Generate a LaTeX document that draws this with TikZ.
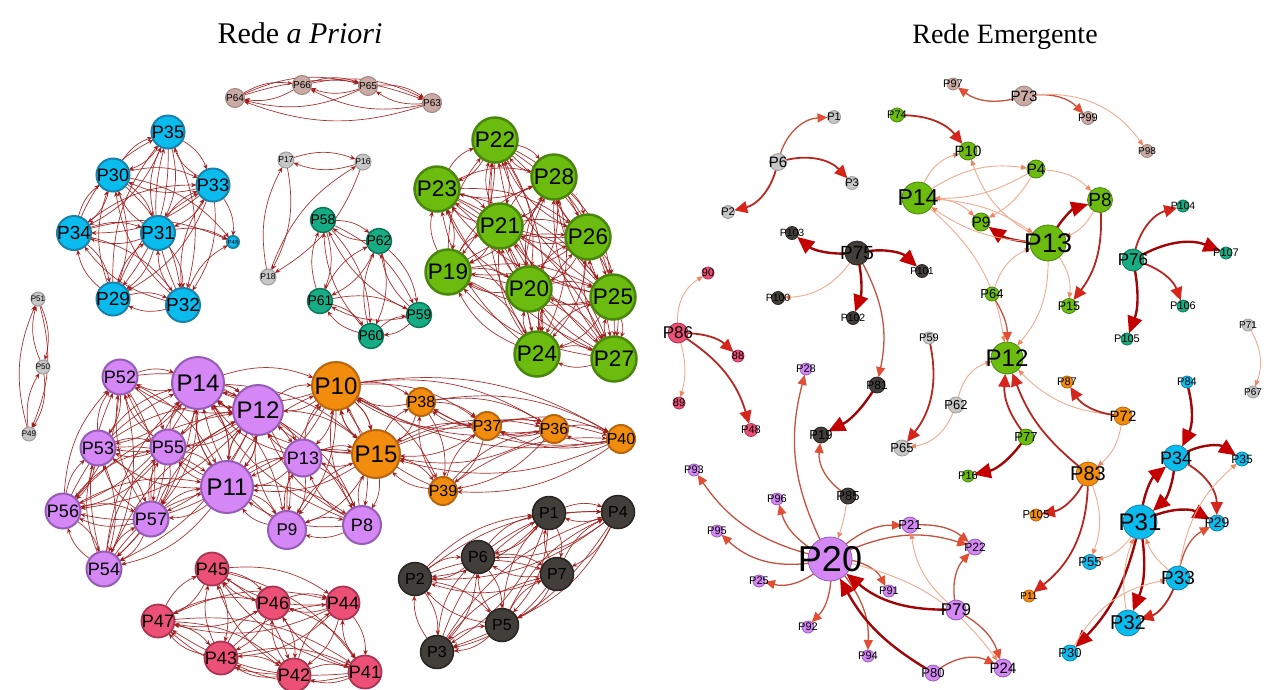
\documentclass[tikz,border=0pt]{standalone}
\usepackage{fontspec}
\setmainfont{Liberation Serif}
\newfontfamily\nodefont{Liberation Sans}
\usetikzlibrary{arrows.meta}
\pgfdeclarelayer{bg}
\pgfdeclarelayer{edges}
\pgfsetlayers{bg,edges,main}

% node colours (fill / border)
\definecolor{cblue}{RGB}{10,188,238}   \definecolor{cblueD}{RGB}{25,130,170}
\definecolor{cgreen}{RGB}{108,188,16}  \definecolor{cgreenD}{RGB}{72,135,12}
\definecolor{cteal}{RGB}{22,172,132}   \definecolor{ctealD}{RGB}{12,118,88}
\definecolor{cviol}{RGB}{212,135,245}  \definecolor{cviolD}{RGB}{150,92,182}
\definecolor{corng}{RGB}{242,140,12}   \definecolor{corngD}{RGB}{185,100,15}
\definecolor{cdark}{RGB}{66,62,57}     \definecolor{cdarkD}{RGB}{40,38,35}
\definecolor{cpink}{RGB}{236,80,118}   \definecolor{cpinkD}{RGB}{172,52,82}
\definecolor{cgray}{RGB}{198,198,198}  \definecolor{cgrayD}{RGB}{158,158,158}
\definecolor{crose}{RGB}{202,170,164}  \definecolor{croseD}{RGB}{162,132,126}
% edge colours
\definecolor{ered}{RGB}{160,28,28}
\definecolor{eA}{RGB}{244,170,142} \definecolor{eAt}{RGB}{240,132,100}
\definecolor{eB}{RGB}{198,82,62}   \definecolor{eBt}{RGB}{226,78,52}
\definecolor{eC}{RGB}{180,40,32}   \definecolor{eCt}{RGB}{214,38,28}
\definecolor{eD}{RGB}{160,6,6}     \definecolor{eDt}{RGB}{196,0,0}

\tikzset{
  fs/.style={font=\nodefont\fontsize{#1}{#1}\selectfont, text=black},
  nd/.style={circle, inner sep=0pt, outer sep=0pt},
  lblue/.style={fill=cblue, draw=cblueD, line width=2pt},
  lgreen/.style={fill=cgreen, draw=cgreenD, line width=2.5pt},
  lteal/.style={fill=cteal, draw=ctealD, line width=1.5pt},
  lviol/.style={fill=cviol, draw=cviolD, line width=2pt},
  lorng/.style={fill=corng, draw=corngD, line width=2pt},
  ldark/.style={fill=cdark, draw=cdarkD, line width=1.5pt},
  lpink/.style={fill=cpink, draw=cpinkD, line width=1.8pt},
  lgray/.style={fill=cgray, draw=cgrayD, line width=1pt},
  lrose/.style={fill=crose, draw=croseD, line width=1pt},
  rblue/.style={fill=cblue, draw=cblueD, line width=0.8pt},
  rgreen/.style={fill=cgreen, draw=cgreenD, line width=0.8pt},
  rteal/.style={fill=cteal, draw=ctealD, line width=0.8pt},
  rviol/.style={fill=cviol, draw=cviolD, line width=0.8pt},
  rorng/.style={fill=corng, draw=corngD, line width=0.8pt},
  rdark/.style={fill=cdark, draw=cdarkD, line width=0.8pt},
  rpink/.style={fill=cpink, draw=cpinkD, line width=0.8pt},
  rgray/.style={fill=cgray, draw=cgrayD, line width=0.8pt},
  rrose/.style={fill=crose, draw=croseD, line width=0.8pt},
  le/.style={draw=ered, draw opacity=0.9, line width=0.7pt,
             -{Stealth[length=5.5pt,width=4.5pt]}, bend left=19},
  ra/.style={draw=eA, line width=0.9pt, -{Triangle[length=6pt,width=5pt,color=eAt]}, bend left=25},
  rb/.style={draw=eB, line width=1.3pt, -{Triangle[length=10pt,width=9pt,color=eBt]}, bend left=25},
  rc/.style={draw=eC, line width=1.8pt, -{Triangle[length=13pt,width=12pt,color=eCt]}, bend left=25},
  rd/.style={draw=eD, line width=2.4pt, -{Triangle[length=17pt,width=15pt,color=eDt]}, bend left=25},
}

% style, diameter, font size, name, position, label
\newcommand\pn[6]{\node[nd,#1,minimum size=#2pt,label={[fs=#3]center:#6}] (#4) at (#5) {};}
% every ordered pair of a group, curved edges
\newcommand\clique[1]{\foreach \u in {#1}{\foreach \v in {#1}{\ifx\u\v\else\draw[le] (\u) to (\v);\fi}}}

\begin{document}
\begin{tikzpicture}[x=1pt,y=-1pt]
\begin{pgfonlayer}{bg}
\fill[white] (0,0) rectangle (1268,689);
\end{pgfonlayer}
\path[use as bounding box] (0,0) rectangle (1268,689);

% titles
\node[anchor=base, font=\fontsize{30}{30}\selectfont] (t1) at (300,43) {Rede \textit{a Priori}};
\node[anchor=base, font=\fontsize{28}{28}\selectfont] (t2) at (1005,43) {Rede Emergente};

% ---------------- first network ----------------
\pn{lblue}{33}{18}{a35}{168,132}{P35}
\pn{lblue}{33}{18}{a30}{113,175}{P30}
\pn{lblue}{33}{18}{a33}{213,185}{P33}
\pn{lblue}{34}{19}{a34}{74,233}{P34}
\pn{lblue}{34}{19}{a31}{158,233}{P31}
\pn{lblue}{12}{6}{a48}{233,242}{P48}
\pn{lblue}{33}{19}{a29}{113,299}{P29}
\pn{lblue}{34}{19}{a32}{183,305}{P32}

\pn{lrose}{19}{10}{a64}{235,98}{P64}
\pn{lrose}{19}{10}{a66}{302,85}{P66}
\pn{lrose}{19}{10}{a65}{368,86}{P65}
\pn{lrose}{19}{10}{a63}{432,103}{P63}

\pn{lgray}{16}{8.5}{a17}{286,160}{P17}
\pn{lgray}{16}{8.5}{a16}{363,162}{P16}
\pn{lgray}{16}{8.5}{a18}{268,277}{P18}
\pn{lgray}{14}{8}{a51}{38,299}{P51}
\pn{lgray}{14}{8}{a50}{43,367}{P50}
\pn{lgray}{14}{8}{a49}{29,434}{P49}

\pn{lteal}{25}{14}{a58}{323,220}{P58}
\pn{lteal}{25}{14}{a62}{379,241}{P62}
\pn{lteal}{25}{14}{a61}{320,301}{P61}
\pn{lteal}{25}{14}{a59}{419,315}{P59}
\pn{lteal}{25}{14}{a60}{371,336}{P60}

\pn{lgreen}{45}{22.5}{a22}{495,140}{P22}
\pn{lgreen}{45}{22.5}{a28}{554,177}{P28}
\pn{lgreen}{45}{22.5}{a23}{437,189}{P23}
\pn{lgreen}{45}{22.5}{a21}{500,226}{P21}
\pn{lgreen}{45}{22.5}{a26}{588,237}{P26}
\pn{lgreen}{45}{22.5}{a19}{448,272}{P19}
\pn{lgreen}{45}{22.5}{a20}{529,289}{P20}
\pn{lgreen}{45}{22.5}{a25}{613,297}{P25}
\pn{lgreen}{45}{22.5}{a24}{537,354}{P24}
\pn{lgreen}{45}{22.5}{a27}{614,359}{P27}

\pn{lviol}{35}{18}{a52}{120,377}{P52}
\pn{lviol}{52}{24}{a14}{198,383}{P14}
\pn{lviol}{50}{24}{a12}{258,410}{P12}
\pn{lviol}{35}{18}{a53}{98,448}{P53}
\pn{lviol}{35}{18}{a55}{168,447}{P55}
\pn{lviol}{37}{18}{a13}{303,458}{P13}
\pn{lviol}{52}{24}{a11}{227,487}{P11}
\pn{lviol}{35}{18}{a56}{63,511}{P56}
\pn{lviol}{35}{18}{a57}{151,519}{P57}
\pn{lviol}{38}{17}{a9}{287,530}{P9}
\pn{lviol}{35}{18}{a54}{104,569}{P54}
\pn{lviol}{38}{18}{a8}{362,525}{P8}

\pn{lorng}{48}{24}{a10}{336,386}{P10}
\pn{lorng}{48}{24}{a15}{376,454}{P15}
\pn{lorng}{28}{16}{a38}{421,402}{P38}
\pn{lorng}{28}{16}{a37}{487,426}{P37}
\pn{lorng}{28}{16}{a36}{554,429}{P36}
\pn{lorng}{28}{16}{a40}{621,439}{P40}
\pn{lorng}{28}{16}{a39}{443,491}{P39}

\pn{lpink}{33}{18}{a45}{212,569}{P45}
\pn{lpink}{33}{18}{a46}{273,603}{P46}
\pn{lpink}{33}{18}{a44}{343,603}{P44}
\pn{lpink}{33}{18}{a47}{158,621}{P47}
\pn{lpink}{33}{18}{a43}{221,658}{P43}
\pn{lpink}{33}{18}{a42}{294,675}{P42}
\pn{lpink}{33}{18}{a41}{365,672}{P41}

\pn{ldark}{33}{16}{a1}{549,513}{P1}
\pn{ldark}{33}{16}{a4}{618,512}{P4}
\pn{ldark}{33}{16}{a6}{478,557}{P6}
\pn{ldark}{33}{16}{a7}{557,574}{P7}
\pn{ldark}{33}{16}{a2}{415,579}{P2}
\pn{ldark}{33}{16}{a5}{502,625}{P5}
\pn{ldark}{33}{16}{a3}{437,652}{P3}

\begin{pgfonlayer}{edges}
\clique{a35,a30,a33,a34,a31,a29,a32}
\foreach \u in {a30,a33,a31,a34,a32}{\draw[le] (\u) to (a48);}
\clique{a64,a66,a65,a63}
\clique{a17,a16,a18}
\clique{a51,a50,a49}
\clique{a58,a62,a61,a59,a60}
\clique{a22,a28,a23,a21,a26,a19,a20,a25,a24,a27}
\clique{a52,a53,a54,a55,a56,a57,a14,a12,a11}
\clique{a14,a12,a11,a13,a9,a8,a10,a15}
\clique{a10,a15,a38,a37,a36,a40,a39}
\clique{a45,a46,a44,a47,a43,a42,a41}
\clique{a1,a4,a6,a7,a2,a5,a3}
\end{pgfonlayer}

% ---------------- second network ----------------
\pn{rgray}{13}{11}{b1}{834,117}{P1}
\pn{rgray}{17}{15}{b6}{778,162}{P6}
\pn{rgray}{13}{11}{b3}{852,183}{P3}
\pn{rgray}{13}{11}{b2}{728,212}{P2}
\pn{rgreen}{14}{11}{b74}{897,115}{P74}
\pn{rrose}{12}{11}{b97}{953,84}{P97}
\pn{rrose}{20}{15}{b73}{1024,96}{P73}
\pn{rrose}{13}{11}{b99}{1088,118}{P99}
\pn{rrose}{13}{10}{b98}{1147,151}{P98}
\pn{rgreen}{18}{15}{b10}{968,151}{P10}
\pn{rgreen}{18}{15}{b4}{1036,169}{P4}
\pn{rgreen}{32}{23}{b14}{918,198}{P14}
\pn{rgreen}{25}{19}{b8}{1100,200}{P8}
\pn{rgreen}{18}{15}{b9}{981,222}{P9}
\pn{rgreen}{36}{27}{b13}{1048,243}{P13}
\pn{rgreen}{14}{13}{b64}{992,294}{P64}
\pn{rgreen}{15}{12.5}{b15}{1069,306}{P15}
\pn{rgreen}{32}{24}{b12}{1007,358}{P12}
\pn{rteal}{22}{17}{b76}{1133,260}{P76}
\pn{rteal}{12}{10.5}{b104}{1183,206}{P104}
\pn{rteal}{12}{11}{b107}{1226,253}{P107}
\pn{rteal}{12}{11}{b106}{1183,306}{P106}
\pn{rteal}{12}{11}{b105}{1127,339}{P105}
\pn{rdark}{13}{10.5}{b103}{792,233}{P103}
\pn{rdark}{24}{19}{b75}{857,253}{P75}
\pn{rdark}{13}{10}{b101}{922,271}{P101}
\pn{rdark}{13}{10.5}{b100}{778,298}{P100}
\pn{rdark}{13}{10.5}{b102}{853,318}{P102}
\pn{rpink}{12}{11}{b90}{708,273}{90}
\pn{rpink}{20}{17}{b86}{678,333}{P86}
\pn{rpink}{12}{11}{b88}{738,356}{88}
\pn{rpink}{12}{11}{b89}{679,403}{89}
\pn{rpink}{13}{11}{b48}{751,430}{P48}
\pn{rgray}{12}{11}{b59}{929,338}{P59}
\pn{rgray}{12}{10}{b71}{1248,325}{P71}
\pn{rgray}{12}{10}{b67}{1253,392}{P67}
\pn{rviol}{12}{11}{b28}{806,369}{P28}
\pn{rdark}{16}{12}{b81}{877,385}{P81}
\pn{rdark}{16}{13}{b19}{821,435}{P19}
\pn{rgray}{16}{13}{b62}{956,405}{P62}
\pn{rgray}{16}{13}{b65}{902,448}{P65}
\pn{rorng}{12}{11}{b87}{1067,382}{P87}
\pn{rblue}{12}{11}{b84}{1187,382}{P84}
\pn{rorng}{18}{15}{b72}{1123,416}{P72}
\pn{rgreen}{16}{13}{b77}{1026,437}{P77}
\pn{rgreen}{12}{11}{b16}{968,476}{P16}
\pn{rorng}{24}{20}{b83}{1088,474}{P83}
\pn{rblue}{26}{18}{b34}{1176,458}{P34}
\pn{rblue}{14}{12}{b35}{1242,459}{P35}
\pn{rviol}{12}{11}{b93}{694,470}{P93}
\pn{rdark}{16}{13}{b85}{848,496}{P85}
\pn{rviol}{12}{11}{b96}{777,499}{P96}
\pn{rorng}{12}{11.5}{b105o}{1036,515}{P105}
\pn{rblue}{34}{24}{b31}{1140,522}{P31}
\pn{rblue}{16}{14}{b29}{1217,523}{P29}
\pn{rviol}{16}{13}{b21}{910,525}{P21}
\pn{rviol}{12}{11}{b95}{717,531}{P95}
\pn{rviol}{16}{12}{b22}{975,547}{P22}
\pn{rviol}{44}{36}{b20}{830,559}{P20}
\pn{rblue}{15}{13}{b55}{1090,562}{P55}
\pn{rblue}{24}{19}{b33}{1178,578}{P33}
\pn{rviol}{12}{11}{b25}{759,581}{P25}
\pn{rviol}{12}{11}{b91}{889,591}{P91}
\pn{rorng}{12}{10}{b11}{1029,596}{P11}
\pn{rviol}{20}{17}{b79}{956,610}{P79}
\pn{rblue}{26}{20}{b32}{1128,623}{P32}
\pn{rviol}{12}{11}{b92}{808,627}{P92}
\pn{rblue}{16}{13}{b30}{1070,653}{P30}
\pn{rviol}{12}{11}{b94}{868,656}{P94}
\pn{rviol}{18}{15}{b24}{1003,668}{P24}
\pn{rviol}{16}{13}{b80}{933,673}{P80}

\begin{pgfonlayer}{edges}
% grey and dark groups
\draw[rb] (b6) to[bend left=35] (b1);
\draw[rc] (b6) to[bend left=30] (b3);
\draw[rc] (b6) to[bend left=30] (b2);
\draw[rd] (b75) to[bend left=20] (b103);
\draw[rd] (b75) to[bend left=25] (b101);
\draw[rd] (b75) to[bend left=15] (b102);
\draw[ra] (b75) to[bend left=25] (b100);
\draw[rb] (b75) to[bend left=20] (b81);
\draw[rd] (b81) to[bend left=15] (b19);
\draw[rb] (b85) to[bend left=30] (b19);
\draw[ra] (b85) to[bend left=5] (b20);
% pink group
\draw[ra] (b86) to[bend left=30] (b90);
\draw[rc] (b86) to[bend left=20] (b88);
\draw[ra] (b86) to[bend left=15] (b89);
\draw[rc] (b86) to[bend left=20] (b48);
% rose group
\draw[rb] (b73) to[bend left=25] (b97);
\draw[rb] (b73) to[bend left=25] (b99);
\draw[ra] (b73) to[bend left=30] (b98);
% green group
\draw[rc] (b74) to[bend left=25] (b10);
\draw[rd] (b13) to[bend left=15] (b9);
\draw[rd] (b13) to[bend left=20] (b8);
\draw[ra] (b8) to[bend left=20] (b13);
\draw[rc] (b8) to[bend left=20] (b15);
\draw[ra] (b13) to[bend left=20] (b15);
\draw[ra] (b13) to[bend left=20] (b12);
\draw[ra] (b13) to[bend left=15] (b14);
\draw[ra] (b13) to[bend left=20] (b10);
\draw[ra] (b14) to[bend left=25] (b10);
\draw[ra] (b14) to[bend left=15] (b13);
\draw[ra] (b14) to[bend left=20] (b9);
\draw[ra] (b14) to[bend left=20] (b12);
\draw[ra] (b14) to[bend left=20] (b4);
\draw[ra] (b4) to[bend left=20] (b8);
\draw[ra] (b4) to[bend left=15] (b9);
\draw[ra] (b4) to[bend left=15] (b14);
\draw[ra] (b64) to[bend left=25] (b13);
\draw[rb] (b64) to[bend left=15] (b12);
\draw[rc] (b77) to[bend left=20] (b12);
\draw[rc] (b83) to[bend left=15] (b12);
\draw[ra] (b72) to[bend left=20] (b12);
\draw[ra] (b62) to[bend left=30] (b12);
\draw[rd] (b77) to[bend left=20] (b16);
% teal group
\draw[rc] (b76) to[bend left=30] (b104);
\draw[rd] (b76) to[bend left=25] (b107);
\draw[rc] (b76) to[bend left=25] (b106);
\draw[rd] (b76) to[bend left=15] (b105);
\draw[ra] (b71) to[bend left=25] (b67);
% orange group
\draw[rc] (b72) to[bend left=25] (b87);
\draw[ra] (b72) to[bend left=20] (b83);
\draw[rc] (b83) to[bend left=25] (b105o);
\draw[rc] (b83) to[bend left=25] (b11);
\draw[ra] (b83) to[bend left=20] (b55);
% blue group
\draw[rd] (b84) to[bend left=20] (b34);
\draw[rd] (b34) to[bend left=30] (b35);
\draw[rc] (b34) to[bend left=30] (b29);
\draw[rd] (b34) to[bend left=20] (b31);
\draw[rd] (b31) to[bend left=20] (b34);
\draw[rd] (b31) to[bend left=25] (b29);
\draw[rd] (b31) to[bend left=15] (b32);
\draw[rd] (b31) to[bend left=15] (b30);
\draw[ra] (b31) to[bend left=20] (b55);
\draw[ra] (b33) to[bend left=15] (b31);
\draw[rb] (b33) to[bend left=25] (b29);
\draw[ra] (b33) to[bend left=20] (b35);
\draw[rc] (b33) to[bend left=25] (b32);
\draw[ra] (b32) to[bend left=15] (b31);
\draw[ra] (b30) to[bend left=25] (b33);
% grey pair
\draw[rc] (b59) to[bend left=25] (b65);
\draw[ra] (b62) to[bend left=30] (b65);
% violet group
\draw[rb] (b20) to[bend left=20] (b93);
\draw[rb] (b20) to[bend left=25] (b95);
\draw[rb] (b20) to[bend left=20] (b96);
\draw[rb] (b20) to[bend left=20] (b28);
\draw[rb] (b20) to[bend left=25] (b25);
\draw[rb] (b20) to[bend left=20] (b92);
\draw[rb] (b20) to[bend left=25] (b91);
\draw[rb] (b20) to[bend left=20] (b94);
\draw[rb] (b20) to[bend left=20] (b21);
\draw[rb] (b20) to[bend left=20] (b22);
\draw[rb] (b21) to[bend left=20] (b22);
\draw[ra] (b79) to[bend left=20] (b21);
\draw[rb] (b79) to[bend left=25] (b22);
\draw[rd] (b79) to[bend left=20] (b20);
\draw[rd] (b80) to[bend left=15] (b20);
\draw[rb] (b80) to[bend left=30] (b24);
\draw[rb] (b79) to[bend left=20] (b24);
\draw[ra] (b20) to[bend left=20] (b24);
\end{pgfonlayer}
\end{tikzpicture}
\end{document}
